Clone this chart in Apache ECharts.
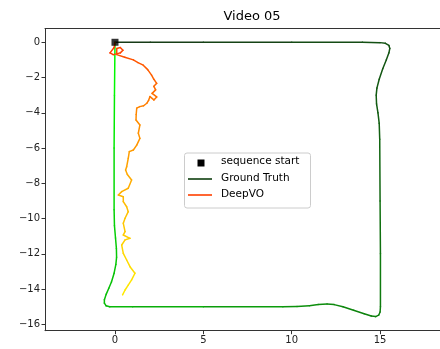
<!DOCTYPE html>
<html><head><meta charset="utf-8">
<script src="https://cdn.jsdelivr.net/npm/echarts@6/dist/echarts.min.js"></script>
<style>html,body{margin:0;padding:0;background:#fff}#c{width:440px;height:349px}</style>
</head><body><div id="c"></div>
<script>
// ---- data ----
var title = "Video 05";
var xTicks = [0, 5, 10, 15];
var yTicks = [-16, -14, -12, -10, -8, -6, -4, -2, 0];
var startPoint = [0, 0];
var gtX = [0,2,5,10,14,15.0,15.3,15.5,15.55,15.5,15.35,15.15,14.95,14.82,14.78,14.8,14.88,14.95,14.98,15,15.02,15.02,15.0,14.92,14.75,14.5,14.1,13.5,12.9,12.4,12.0,11.5,11,10.3,9.5,5,1,-0.3,-0.5,-0.6,-0.6,-0.5,-0.35,-0.2,-0.05,0.05,0.09,0.08,0.03,-0.03,-0.05,-0.05,-0.03,0];
var gtY = [0,0,0,0,0,-0.02,-0.06,-0.18,-0.35,-0.6,-1.0,-1.5,-2.1,-2.6,-3.0,-3.5,-4.0,-4.6,-5.5,-9,-12,-15.0,-15.3,-15.48,-15.56,-15.53,-15.4,-15.2,-15.0,-14.88,-14.85,-14.88,-14.94,-14.99,-15,-15,-15,-15,-14.95,-14.8,-14.6,-14.3,-13.95,-13.6,-13.1,-12.6,-12.2,-11.7,-11.1,-10.4,-9.5,-6,-3,0];
var voX = [0,-0.05,-0.28,-0.1,0.3,0.45,0.3,0.1,0.1,0.55,1.04,1.3,1.6,1.85,2.07,2.2,2.36,2.2,2.3,2.1,2.36,2.2,1.98,1.9,1.8,1.62,1.4,1.23,1.2,1.19,1.41,1.32,1.41,1.23,1.04,0.81,0.75,0.66,0.6,0.7,0.94,0.75,0.38,0.19,0.47,0.47,0.66,0.75,0.57,0.47,0.57,0.47,0.85,0.57,0.38,0.47,0.66,0.85,1.13,0.94,0.75,0.57,0.43];
var voY = [0,-0.3,-0.6,-0.7,-0.6,-0.45,-0.3,-0.35,-0.7,-0.85,-1,-1.15,-1.3,-1.55,-1.86,-2.1,-2.33,-2.5,-2.7,-2.9,-3.1,-3.27,-3.08,-3.3,-3.46,-3.6,-3.65,-3.74,-4.1,-4.41,-4.69,-5.16,-5.45,-5.83,-6.11,-6.2,-6.58,-7.06,-7.24,-7.5,-7.81,-8.28,-8.47,-8.66,-8.76,-9.04,-9.33,-9.61,-9.98,-10.27,-10.74,-10.93,-11.12,-11.21,-11.5,-11.97,-12.35,-12.73,-13.1,-13.48,-13.77,-14.05,-14.33];
var legendNames = ["sequence start", "Ground Truth", "DeepVO"];

// ---- helpers ----
function lerpColor(a, b, t) {
  var c = [0,1,2].map(function(i){ return Math.round(a[i] + (b[i]-a[i]) * t); });
  return 'rgb(' + c.join(',') + ')';
}
function cumFrac(xs, ys) {
  var d = [0];
  for (var i = 1; i < xs.length; i++) d.push(d[i-1] + Math.hypot(xs[i]-xs[i-1], ys[i]-ys[i-1]));
  var tot = d[d.length-1];
  return d.map(function(v){ return v / tot; });
}
function segSeries(xs, ys, c0, c1, useLen, gamma, name) {
  var fr = useLen ? cumFrac(xs, ys) : xs.map(function(_, i){ return i / (xs.length - 1); });
  var out = [];
  for (var i = 0; i < xs.length - 1; i++) {
    var t = Math.pow((fr[i] + fr[i+1]) / 2, gamma);
    out.push({
      type: 'line', name: i === 0 ? name : name + '_' + i,
      data: [[xs[i], ys[i]], [xs[i+1], ys[i+1]]],
      showSymbol: false, silent: true, animation: false, z: 2,
      lineStyle: { width: 1.5, color: lerpColor(c0, c1, t), cap: 'round', join: 'round' }
    });
  }
  return out;
}
function fmt(v) { return (v < 0 ? '\u2212' : '') + Math.abs(v); }

var series = []
  .concat(segSeries(gtX, gtY, [22, 58, 22], [0, 255, 0], true, 1.5, 'Ground Truth'))
  .concat(segSeries(voX, voY, [255, 55, 0], [255, 235, 0], false, 1, 'DeepVO'));
series.push({
  type: 'scatter', name: 'sequence start', data: [startPoint], symbol: 'rect',
  symbolSize: 7, itemStyle: { color: '#000' }, z: 5, silent: true, animation: false
});

var font = 'DejaVu Sans';
var X_MIN = -3.96, X_MAX = 18.39;
var chart = echarts.init(document.getElementById('c'), null, { renderer: 'canvas' });
chart.setOption({
  animation: false,
  title: { text: title, left: 247, top: 5, textAlign: 'center',
    textStyle: { fontFamily: font, fontSize: 13, fontWeight: 'normal', color: '#000' } },
  grid: { left: 45, top: 28.7, right: 0, height: 302, show: false, containLabel: false },
  xAxis: [{
    type: 'value', min: X_MIN, max: X_MAX,
    axisLine: { show: true, onZero: false, lineStyle: { color: '#333', width: 1 } },
    axisTick: { show: true, length: 3.5, lineStyle: { color: '#333' }, customValues: xTicks },
    axisLabel: { show: true, margin: 5, fontFamily: font, fontSize: 10, color: '#222', customValues: xTicks, formatter: fmt },
    splitLine: { show: false }
  }, {
    type: 'value', position: 'top', min: X_MIN, max: X_MAX,
    axisLine: { show: true, onZero: false, lineStyle: { color: '#333', width: 1 } },
    axisTick: { show: false }, axisLabel: { show: false }, splitLine: { show: false }
  }],
  yAxis: {
    type: 'value', min: -16.36, max: 0.77,
    axisLine: { show: true, onZero: false, lineStyle: { color: '#333', width: 1 } },
    axisTick: { show: true, length: 3.5, lineStyle: { color: '#333' }, customValues: yTicks },
    axisLabel: { show: true, margin: 5, fontFamily: font, fontSize: 10, color: '#222', customValues: yTicks, formatter: fmt },
    splitLine: { show: false }
  },
  series: series,
  graphic: [
    { type: 'rect', left: 184, top: 152.5, shape: { width: 126, height: 55, r: 2.5 },
      style: { fill: 'rgba(255,255,255,0.8)', stroke: '#cccccc', lineWidth: 1 }, z: 10 },
    { type: 'rect', left: 197.5, top: 159.5, shape: { width: 7, height: 7 }, style: { fill: '#000' }, z: 11 },
    { type: 'line', shape: { x1: 188, y1: 179, x2: 212, y2: 179 }, style: { stroke: '#0f3f0f', lineWidth: 1.6 }, z: 11 },
    { type: 'line', shape: { x1: 188, y1: 195, x2: 212, y2: 195 }, style: { stroke: '#ff4000', lineWidth: 1.6 }, z: 11 },
    { type: 'text', left: 221, top: 156, style: { text: legendNames[0], fontFamily: font, fontSize: 10.5, fill: '#000' }, z: 11 },
    { type: 'text', left: 221, top: 172.5, style: { text: legendNames[1], fontFamily: font, fontSize: 10.5, fill: '#000' }, z: 11 },
    { type: 'text', left: 221, top: 189, style: { text: legendNames[2], fontFamily: font, fontSize: 10.5, fill: '#000' }, z: 11 }
  ]
});
</script></body></html>
